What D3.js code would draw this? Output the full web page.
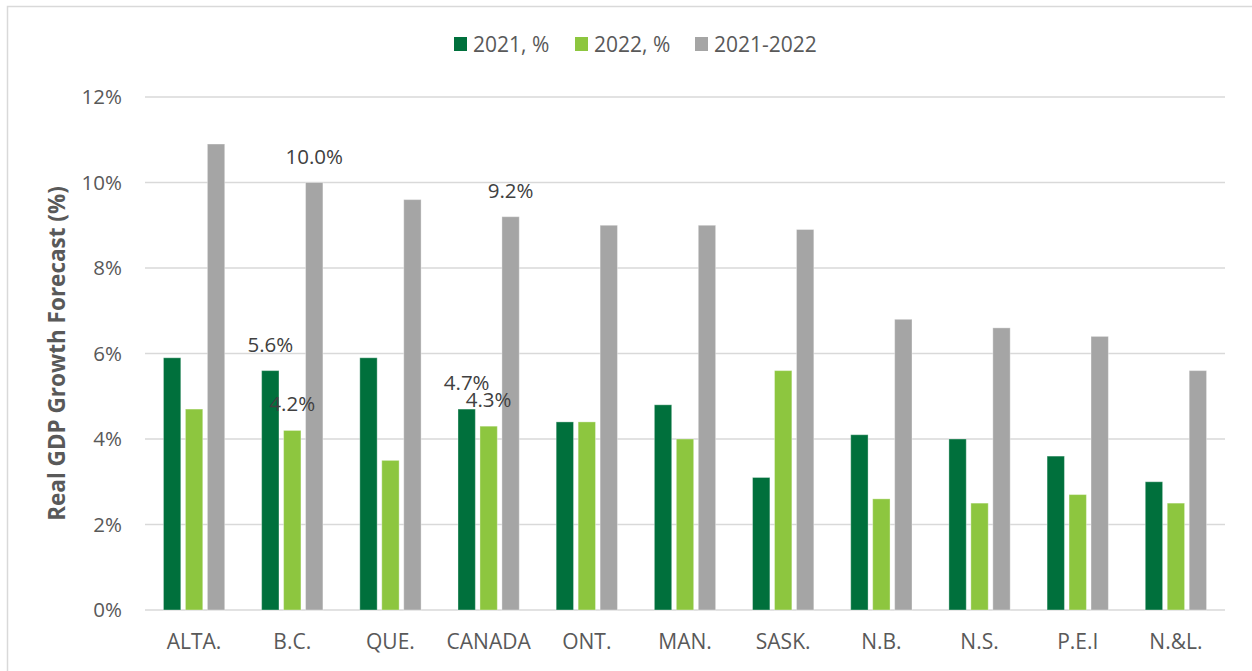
<!DOCTYPE html>
<html>
<head>
<meta charset="utf-8">
<script src="https://cdn.jsdelivr.net/npm/d3@7.9.0/dist/d3.min.js"></script>
<style>
  html, body { margin: 0; padding: 0; background: #fff; }
  svg { display: block; font-family: 'Open Sans', sans-serif; }
</style>
</head>
<body>
<svg id="chart" width="1252" height="671"></svg>
<script>
const regions = ['ALTA.', 'B.C.', 'QUE.', 'CANADA', 'ONT.', 'MAN.', 'SASK.', 'N.B.', 'N.S.', 'P.E.I', 'N.&L.'];
const seriesNames = ['2021, %', '2022, %', '2021-2022'];
const growth2021 = [5.9, 5.6, 5.9, 4.7, 4.4, 4.8, 3.1, 4.1, 4.0, 3.6, 3.0];
const growth2022 = [4.7, 4.2, 3.5, 4.3, 4.4, 4.0, 5.6, 2.6, 2.5, 2.7, 2.5];
const growthTwoYear = [10.9, 10.0, 9.6, 9.2, 9.0, 9.0, 8.9, 6.8, 6.6, 6.4, 5.6];
const yTicks = [0, 2, 4, 6, 8, 10, 12];
// only these bars carry a value label in the original
const labelledRegions = ['B.C.', 'CANADA'];

const colors = ['#00703c', '#8dc63f', '#a5a5a5'];
const seriesValues = [growth2021, growth2022, growthTwoYear];

const svg = d3.select('#chart');
const margin = { top: 97, right: 27, bottom: 61, left: 145 };
const width = 1252;
const height = 671;

// outer chart frame
svg.append('rect')
  .attr('x', 7.5)
  .attr('y', 6.5)
  .attr('width', 1300)
  .attr('height', 700)
  .attr('fill', 'none')
  .attr('stroke', '#d9d9d9')
  .attr('stroke-width', 1.5);

const x = d3.scaleBand()
  .domain(regions)
  .range([margin.left, width - margin.right]);

const xInner = d3.scaleBand()
  .domain(seriesNames)
  .range([0, x.bandwidth()])
  .paddingInner(0.21)
  .paddingOuter(0.84);

const y = d3.scaleLinear()
  .domain([0, 12])
  .range([height - margin.bottom, margin.top]);

// gridlines
svg.append('g')
  .selectAll('line')
  .data(yTicks)
  .join('line')
  .attr('x1', margin.left)
  .attr('x2', width - margin.right)
  .attr('y1', (d) => y(d))
  .attr('y2', (d) => y(d))
  .attr('stroke', '#d9d9d9')
  .attr('stroke-width', 1.5);

// y tick labels
svg.append('g')
  .selectAll('text')
  .data(yTicks)
  .join('text')
  .attr('x', 122)
  .attr('y', (d) => y(d))
  .attr('dy', '0.36em')
  .attr('text-anchor', 'end')
  .attr('font-size', 20.5)
  .attr('fill', '#595959')
  .text((d) => d + '%');

const rows = regions.map((region, i) => ({
  region,
  values: seriesNames.map((name, s) => ({ region, name, s, value: seriesValues[s][i] })),
}));

const groups = svg.append('g')
  .selectAll('g')
  .data(rows)
  .join('g')
  .attr('transform', (d) => `translate(${x(d.region)},0)`);

groups.selectAll('rect')
  .data((d) => d.values)
  .join('rect')
  .attr('x', (d) => xInner(d.name))
  .attr('width', xInner.bandwidth())
  .attr('y', (d) => y(d.value))
  .attr('height', (d) => y(0) - y(d.value))
  .attr('fill', (d) => colors[d.s])
  .attr('stroke', '#ffffff')
  .attr('stroke-opacity', 0.35)
  .attr('stroke-width', 1);

groups.selectAll('text.value')
  .data((d) => (labelledRegions.includes(d.region) ? d.values : []))
  .join('text')
  .attr('class', 'value')
  .attr('x', (d) => xInner(d.name) + xInner.bandwidth() / 2)
  .attr('y', (d) => y(d.value) - 19)
  .attr('text-anchor', 'middle')
  .attr('font-size', 20.5)
  .attr('fill', '#404040')
  .text((d) => d.value.toFixed(1) + '%');

// category labels
svg.append('g')
  .selectAll('text')
  .data(regions)
  .join('text')
  .attr('x', (d) => x(d) + x.bandwidth() / 2)
  .attr('y', 649)
  .attr('text-anchor', 'middle')
  .attr('font-size', 21)
  .attr('fill', '#595959')
  .text((d) => d);

// y axis title
svg.append('text')
  .attr('transform', `translate(65,${(y(0) + y(12)) / 2}) rotate(-90)`)
  .attr('text-anchor', 'middle')
  .attr('font-size', 22.5)
  .attr('font-weight', 700)
  .attr('fill', '#595959')
  .text('Real GDP Growth Forecast (%)');

// legend
const legendX = [454, 575, 695];
const legend = svg.append('g')
  .selectAll('g')
  .data(seriesNames)
  .join('g')
  .attr('transform', (d, i) => `translate(${legendX[i]},37)`);

legend.append('rect')
  .attr('width', 13)
  .attr('height', 14)
  .attr('fill', (d, i) => colors[i]);

legend.append('text')
  .attr('x', 19)
  .attr('y', 7)
  .attr('dy', '0.36em')
  .attr('font-size', 21)
  .attr('fill', '#595959')
  .text((d) => d);
</script>
</body>
</html>
